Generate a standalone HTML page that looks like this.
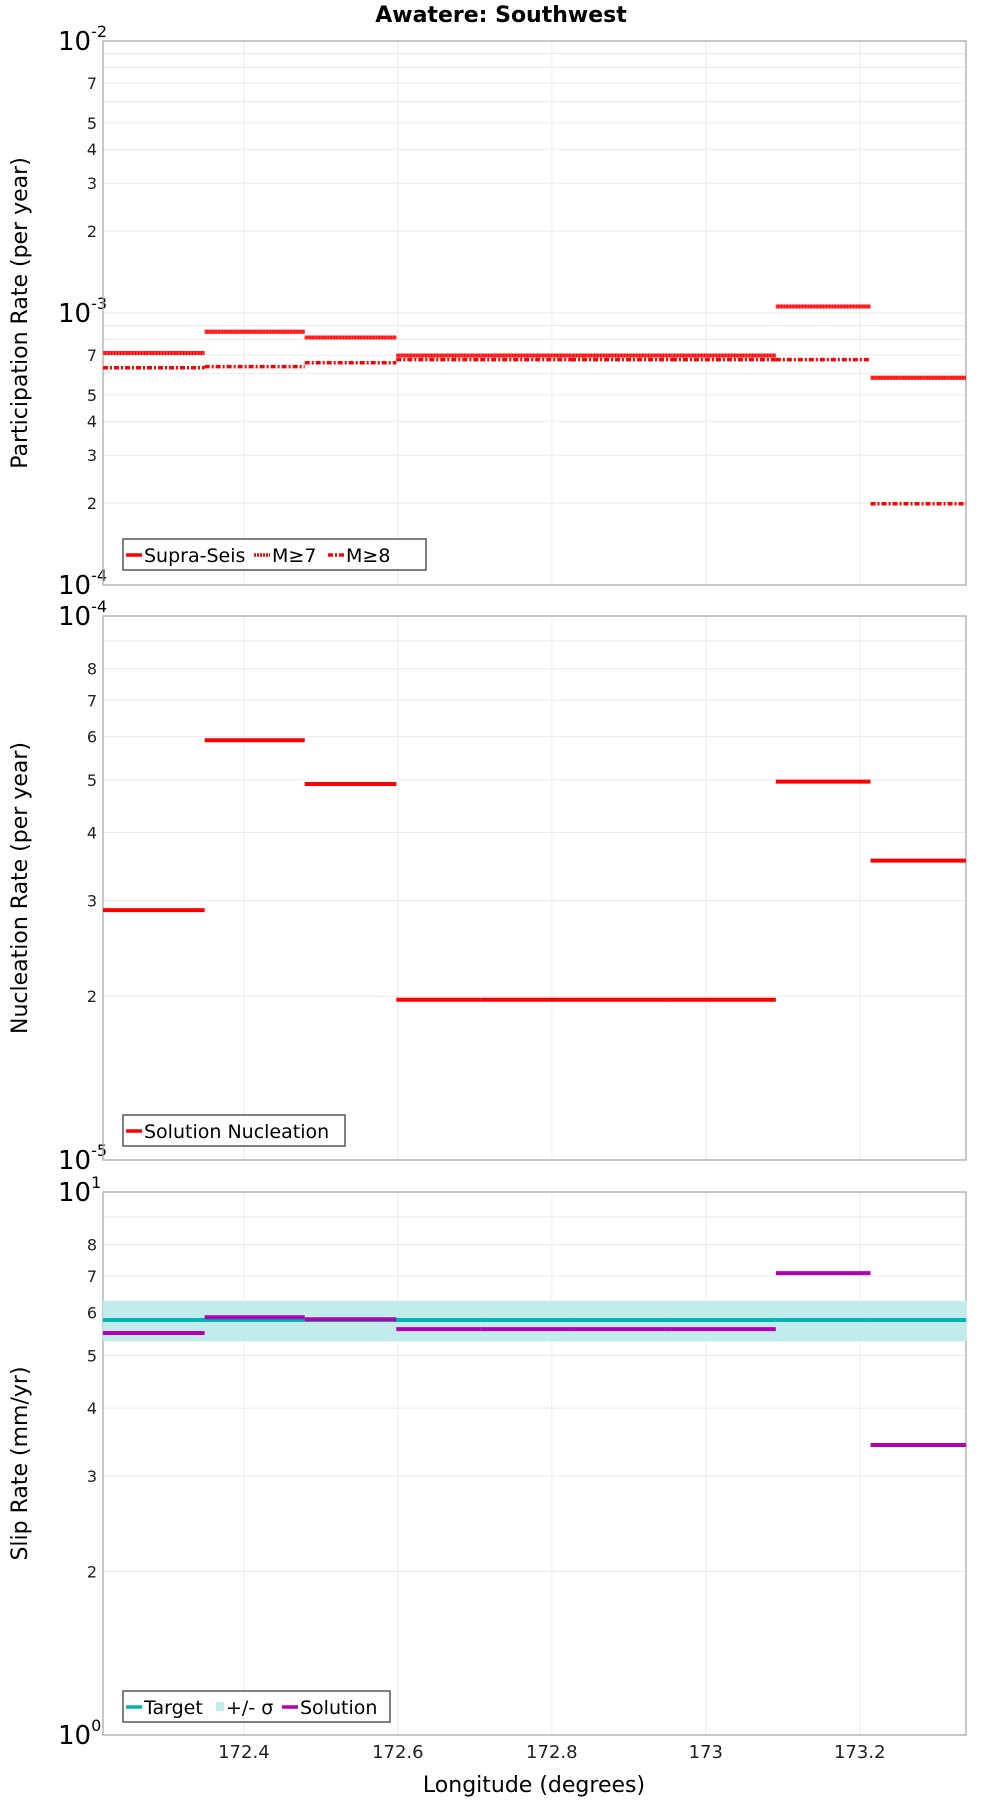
<!DOCTYPE html>
<html><head><meta charset="utf-8"><style>
body{margin:0;background:#fff;}
svg{display:block;font-family:"DejaVu Sans","Liberation Sans",sans-serif;}
</style></head><body>
<svg id="chart" width="1000" height="1800" viewBox="0 0 1000 1800" xmlns="http://www.w3.org/2000/svg">
<text x="501" y="22" text-anchor="middle" font-size="22" font-weight="bold">Awatere: Southwest</text>
<text x="534" y="1792" text-anchor="middle" font-size="22">Longitude (degrees)</text>
</svg>
<script>
const sectionEdges = [172.217, 172.349, 172.479, 172.598, 172.707, 172.825, 172.956, 173.091, 173.214, 173.338];
const supraSeis = [7.13e-4, 8.53e-4, 8.13e-4, 6.98e-4, 6.98e-4, 6.98e-4, 6.98e-4, 1.057e-3, 5.78e-4];
const m7 = [7.13e-4, 8.53e-4, 8.13e-4, 6.98e-4, 6.98e-4, 6.98e-4, 6.98e-4, 1.057e-3, 5.78e-4];
const m8 = [6.29e-4, 6.35e-4, 6.56e-4, 6.74e-4, 6.74e-4, 6.74e-4, 6.74e-4, 6.74e-4, 1.99e-4];
const nucleation = [2.88e-5, 5.91e-5, 4.91e-5, 1.97e-5, 1.97e-5, 1.97e-5, 1.97e-5, 4.96e-5, 3.55e-5];
const targetSlip = [5.81, 5.81, 5.81, 5.81, 5.81, 5.81, 5.81, 5.81, 5.81];
const sigmaLow = [5.31, 5.31, 5.31, 5.31, 5.31, 5.31, 5.31, 5.31, 5.31];
const sigmaHigh = [6.30, 6.30, 6.30, 6.30, 6.30, 6.30, 6.30, 6.30, 6.30];
const solutionSlip = [5.50, 5.88, 5.83, 5.59, 5.59, 5.59, 5.59, 7.09, 3.42];
const xTicks = [172.4, 172.6, 172.8, 173, 173.2];
const xTickLabels = ["172.4", "172.6", "172.8", "173", "173.2"];

const NS = "http://www.w3.org/2000/svg";
const svg = document.getElementById("chart");
const X0 = 103, X1 = 966, XMIN = 172.217, XMAX = 173.338;
function xs(v){ return X0 + (v - XMIN) / (XMAX - XMIN) * (X1 - X0); }
function mk(tag, attrs, parent){
  const e = document.createElementNS(NS, tag);
  for (const k in attrs) e.setAttribute(k, attrs[k]);
  (parent || svg).appendChild(e);
  return e;
}
function makeY(top, bottom, dmin, dmax){
  return v => bottom - (Math.log10(v) - dmin) / (dmax - dmin) * (bottom - top);
}
function panel(name, top, bottom, dmin, dmax, minorLabels, title){
  const ys = makeY(top, bottom, dmin, dmax);
  const g = mk("g", {});
  
  
  for (const t of xTicks){
    const l = mk("line", {x1: xs(t), x2: xs(t), y1: top, y2: bottom, stroke: "#ebebeb", "stroke-width": 1}, g);
    
    
  }
  for (let d = dmin; d < dmax; d++){
    for (let m = 1; m <= 9; m++){
      const v = m * Math.pow(10, d);
      const y = ys(v);
      if (m > 1 || d > dmin){
        const l = mk("line", {x1: X0, x2: X1, y1: y, y2: y, stroke: "#ebebeb", "stroke-width": 1}, g);
        
        
      }
      if (m > 1 && minorLabels.includes(m)){
        const t = mk("text", {x: 97, y: y + 6, "text-anchor": "end", "font-size": 16, fill: "#222"}, g);
        
        
        t.textContent = m;
      }
    }
  }
  for (let d = dmin; d <= dmax; d++){
    const y = ys(Math.pow(10, d));
    const t = mk("text", {x: 58, y: y + 9, "font-size": 26, fill: "#000"}, g);
    
    
    t.textContent = "10";
    const s = mk("tspan", {dy: -13, "font-size": 16}, t);
    s.textContent = String(d);
  }
  const fr = mk("rect", {x: X0, y: top, width: X1 - X0, height: bottom - top, fill: "none", stroke: "#aaa", "stroke-width": 1.3}, g);
  
  
  const cy = (top + bottom) / 2;
  const tt = mk("text", {x: 27, y: cy, "text-anchor": "middle", "font-size": 22, transform: `rotate(-90 27 ${cy})`}, g);
  
  
  tt.textContent = title;
  return {ys, g};
}
function steps(p, vals, color, dash, label, w){
  for (let i = 0; i < vals.length; i++){
    const y = p.ys(vals[i]);
    const a = {x1: xs(sectionEdges[i]), x2: xs(sectionEdges[i+1]), y1: y, y2: y, stroke: color, "stroke-width": w || 4};
    if (dash) a["stroke-dasharray"] = dash;
    const l = mk("line", a, p.g);
    
    
  }
}
function legend(p, x, y, w, items){
  const g = mk("g", {}, p.g);
  
  
  mk("rect", {x: x, y: y, width: w, height: 31, fill: "#fff", stroke: "#555", "stroke-width": 1.5}, g);
  let cx = x + 3;
  for (const it of items){
    let sw;
    if (it.box){ sw = mk("rect", {x: cx + 2, y: y + 11, width: 8, height: 9, fill: it.color}, g); cx += 12; }
    else {
      const a = {x1: cx, x2: cx + 16, y1: y + 16, y2: y + 16, stroke: it.color, "stroke-width": 3.5};
      if (it.dash) a["stroke-dasharray"] = it.dash;
      sw = mk("line", a, g); cx += 18;
    }
    
    
    const t = mk("text", {x: cx, y: y + 23, "font-size": 19}, g);
    
    
    t.textContent = it.label;
    cx += it.tw;
  }
}
// Panel 1
const p1 = panel("participation", 41, 585, -4, -2, [2,3,4,5,7], "Participation Rate (per year)");
steps(p1, supraSeis, "#ff0000", null, "supra-seis");
steps(p1, m7, "#ff3030", "2,1", "m7");
steps(p1, m8, "#ff0000", "5,2,2,2", "m8", 3.5);
legend(p1, 123, 539, 303, [{label:"Supra-Seis", color:"#f00", tw:110},{label:"M≥7", color:"#f00", dash:"2,1", tw:56},{label:"M≥8", color:"#f00", dash:"5,2,2,2", tw:50}]);
// Panel 2
const p2 = panel("nucleation", 616, 1160, -5, -4, [2,3,4,5,6,7,8], "Nucleation Rate (per year)");
steps(p2, nucleation, "#ff0000", null, "nucleation");
legend(p2, 123, 1115, 222, [{label:"Solution Nucleation", color:"#f00", tw:195}]);
// Panel 3
const p3 = panel("slip-rate", 1192, 1735, 0, 1, [2,3,4,5,6,7,8], "Slip Rate (mm/yr)");
for (let i = 0; i < sigmaLow.length; i++){
  const yH = p3.ys(sigmaHigh[i]), yL = p3.ys(sigmaLow[i]);
  const r = mk("rect", {x: xs(sectionEdges[i]), y: yH, width: xs(sectionEdges[i+1]) - xs(sectionEdges[i]) + 0.5, height: yL - yH, fill: "#c2ecec"}, p3.g);
  
  
}
steps(p3, targetSlip, "#00b4b4", null, "target");
steps(p3, solutionSlip, "#b400b4", null, "solution");
legend(p3, 123, 1691, 267, [{label:"Target", color:"#00b4b4", tw:70},{label:"+/- σ", color:"#c2ecec", box:true, tw:56},{label:"Solution", color:"#b400b4", tw:80}]);
// x ticks
for (let i = 0; i < xTicks.length; i++){
  const t = mk("text", {x: xs(xTicks[i]), y: 1758, "text-anchor": "middle", "font-size": 18, fill: "#222"});
  
  
  t.textContent = xTickLabels[i];
}
</script>
</body></html>
